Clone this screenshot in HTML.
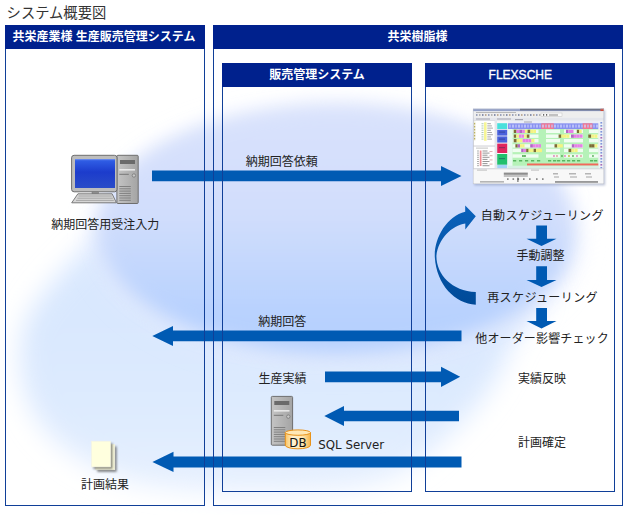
<!DOCTYPE html>
<html lang="ja">
<head>
<meta charset="utf-8">
<title>システム概要図</title>
<style>
html,body{margin:0;padding:0;background:#fff;}
body{width:630px;height:515px;overflow:hidden;position:relative;font-family:"Liberation Sans","Noto Sans CJK JP",sans-serif;}
svg{position:absolute;left:0;top:0;display:block;}
.t{font-family:"Liberation Sans","Noto Sans CJK JP",sans-serif;font-size:12px;fill:#222;}
.h{font-family:"Liberation Sans","Noto Sans CJK JP",sans-serif;font-size:12px;font-weight:bold;fill:#fff;}
</style>
</head>
<body>
<svg width="630" height="515" viewBox="0 0 630 515">
<defs>
  <filter id="b1" x="-30%" y="-30%" width="160%" height="160%"><feGaussianBlur stdDeviation="0.9"/></filter>
  <filter id="b03" x="-5%" y="-5%" width="110%" height="110%"><feGaussianBlur stdDeviation="0.6"/></filter>
  <filter id="b18" x="-50%" y="-50%" width="200%" height="200%"><feGaussianBlur stdDeviation="18"/></filter>
  <filter id="b30" x="-50%" y="-50%" width="200%" height="200%"><feGaussianBlur stdDeviation="22"/></filter>
  <filter id="b6" x="-20%" y="-20%" width="140%" height="140%"><feGaussianBlur stdDeviation="9"/></filter>
  <filter id="b15" x="-50%" y="-50%" width="200%" height="200%"><feGaussianBlur stdDeviation="13"/></filter>
  <linearGradient id="inner" x1="0" y1="0" x2="0" y2="1">
    <stop offset="0" stop-color="#d9e2fc"/>
    <stop offset="0.42" stop-color="#d2defc"/>
    <stop offset="0.65" stop-color="#c3d7fd"/>
    <stop offset="0.85" stop-color="#b7d1fe"/>
    <stop offset="1" stop-color="#b7d1fe"/>
  </linearGradient>
  <linearGradient id="outer" gradientUnits="userSpaceOnUse" x1="0" y1="330" x2="0" y2="500">
    <stop offset="0" stop-color="#d9e8fe"/>
    <stop offset="0.5" stop-color="#deebfe"/>
    <stop offset="1" stop-color="#e8f1fe"/>
  </linearGradient>
  <linearGradient id="curve" x1="0" y1="0" x2="0" y2="1">
    <stop offset="0" stop-color="#0a62bc"/>
    <stop offset="1" stop-color="#004a98"/>
  </linearGradient>
  <linearGradient id="scr" x1="0" y1="0" x2="0" y2="1">
    <stop offset="0" stop-color="#3262e8"/>
    <stop offset="0.45" stop-color="#1c3ccc"/>
    <stop offset="1" stop-color="#2a4cc8"/>
  </linearGradient>
  <linearGradient id="tower" x1="0" y1="0" x2="1" y2="0">
    <stop offset="0" stop-color="#c4c4c4"/>
    <stop offset="1" stop-color="#a4a4a4"/>
  </linearGradient>
  <linearGradient id="dbg" x1="0" y1="0" x2="1" y2="0">
    <stop offset="0" stop-color="#fbc462"/>
    <stop offset="0.3" stop-color="#fff2d2"/>
    <stop offset="0.7" stop-color="#ffe6b0"/>
    <stop offset="1" stop-color="#f6b448"/>
  </linearGradient>
  <clipPath id="page"><rect x="0" y="0" width="630" height="515"/></clipPath>
</defs>

<!-- background glow -->
<g id="bg" clip-path="url(#page)">
  <path d="M112 226 C84 248 38 292 26 322 C17 345 18 378 30 406 C44 436 70 455 100 470 C150 495 250 495 330 490 C374 487 402 476 425 457 C452 432 490 400 506 356 C514 334 530 314 545 300 L300 240 Z" fill="url(#outer)" filter="url(#b15)"/>
  <ellipse cx="337" cy="236" rx="242" ry="128" fill="#e3eafd" filter="url(#b15)"/>
  <ellipse cx="337" cy="230" rx="238" ry="124" fill="url(#inner)" filter="url(#b6)"/>
  <ellipse cx="640" cy="195" rx="50" ry="125" fill="#ffffff" opacity="0.8" filter="url(#b30)"/>
  <ellipse cx="535" cy="106" rx="125" ry="24" fill="#ffffff" opacity="0.6" filter="url(#b6)" transform="rotate(13 535 106)"/>
</g>

<!-- arrows -->
<g id="arrows" fill="#005ab3">
  <polygon points="152,170.5 441,170.5 441,166 461.5,176 441,186 441,181.2 152,181.2"/>
  <polygon points="461.5,330.5 173,330.5 173,326 152.3,336 173,346 173,341.2 461.5,341.2"/>
  <polygon points="325,371.4 441,371.4 441,366.7 460.2,376.8 441,387 441,382.2 325,382.2"/>
  <polygon points="459,410.7 344,410.7 344,406 324.3,416 344,426 344,421.2 459,421.2"/>
  <polygon points="461.5,456.5 173.5,456.5 173.5,451.7 152.4,461.9 173.5,472 173.5,467.5 461.5,467.5"/>
  <polygon points="536.2,225.4 547,225.4 547,238.8 556.5,238.8 541.5,245.9 526.5,238.8 536.2,238.8"/>
  <polygon points="536.2,266.3 547,266.3 547,279.9 556.5,279.9 541.5,287.1 526.5,279.9 536.2,279.9"/>
  <polygon points="536.2,308 547,308 547,320.9 556.5,320.9 541.5,328.5 526.5,320.9 536.2,320.9"/>
</g>
<path id="curvearrow" fill="url(#curve)" d="M475.8 304.7 C455 303.5 436.5 285 434.8 257 C434 238 447 216 465.2 211.8 L465.2 205.4 L475.8 216.3 L465.3 229.6 L465.3 223.6 C452 225.5 438 239 436.4 256 C436.5 275 452 291 475.8 292 Z"/>


<!-- boxes -->
<g id="boxes" fill="none" stroke="#103f98" stroke-width="1">
  <rect x="5.5" y="25.5" width="199" height="480"/>
  <rect x="213.5" y="25.5" width="409" height="480"/>
  <rect x="222.5" y="63.5" width="189" height="428"/>
  <rect x="425.5" y="63.5" width="189" height="428"/>
</g>
<g id="heads" fill="#00218d">
  <rect x="5" y="25" width="200" height="24"/>
  <rect x="213" y="25" width="410" height="24"/>
  <rect x="222" y="63" width="190" height="24"/>
  <rect x="425" y="63" width="190" height="24"/>
</g>


<!-- computer icon -->
<g id="pc">
  <rect x="116.9" y="155.3" width="21.3" height="48.2" rx="1" fill="url(#tower)" stroke="#6e6e6e" stroke-width="1"/>
  <rect x="120" y="160" width="15" height="4" fill="#6a6a6a"/>
  <rect x="119.3" y="169.2" width="15.7" height="1.3" fill="#f4f4f4"/>
  <rect x="119.3" y="173.8" width="9.5" height="1" fill="#777"/>
  <circle cx="133.9" cy="175.5" r="1.7" fill="#c8c8c8" stroke="#707070" stroke-width="0.7"/>
  <g fill="#808080">
    <rect x="119.3" y="186" width="11.5" height="1"/><rect x="119.3" y="188.3" width="11.5" height="1"/>
    <rect x="119.3" y="190.6" width="11.5" height="1"/><rect x="119.3" y="192.9" width="11.5" height="1"/>
    <rect x="119.3" y="195.2" width="11.5" height="1"/><rect x="119.3" y="197.5" width="11.5" height="1"/>
    <rect x="119.3" y="199.8" width="11.5" height="1"/>
  </g>
  <rect x="71.6" y="155.3" width="45.4" height="36.5" rx="2.5" fill="#bdbdbd" stroke="#6e6e6e" stroke-width="1"/>
  <rect x="75" y="159" width="40" height="29" fill="url(#scr)"/>
  <rect x="75" y="159" width="40" height="1.2" fill="#6f8ff0" opacity="0.8"/>
  <rect x="92" y="192" width="6.6" height="1.8" fill="#9a9a9a" stroke="#6e6e6e" stroke-width="0.5"/>
  <polygon points="77.9,193.8 112.1,193.8 116.4,202.8 71.7,202.8" fill="#d6d6d6" stroke="#6e6e6e" stroke-width="0.9"/>
  <g stroke="#a0a0a0" stroke-width="0.9">
    <line x1="78.5" y1="196" x2="111.8" y2="196"/><line x1="77.3" y1="198.2" x2="112.8" y2="198.2"/><line x1="76" y1="200.4" x2="113.8" y2="200.4"/>
  </g>
</g>

<!-- server + DB -->
<g id="server">
  <rect x="271.3" y="396.4" width="21.3" height="48.8" rx="1" fill="url(#tower)" stroke="#6e6e6e" stroke-width="1"/>
  <rect x="274.3" y="401" width="15" height="4" fill="#6a6a6a"/>
  <rect x="273.8" y="410.2" width="15.7" height="1.3" fill="#f4f4f4"/>
  <rect x="273.8" y="414.8" width="9.5" height="1" fill="#777"/>
  <circle cx="288.3" cy="416.6" r="1.7" fill="#c8c8c8" stroke="#707070" stroke-width="0.7"/>
  <g fill="#808080">
    <rect x="273.8" y="427" width="11.5" height="1"/><rect x="273.8" y="429.3" width="11.5" height="1"/>
    <rect x="273.8" y="431.6" width="11.5" height="1"/><rect x="273.8" y="433.9" width="11.5" height="1"/>
    <rect x="273.8" y="436.2" width="11.5" height="1"/><rect x="273.8" y="438.5" width="11.5" height="1"/>
    <rect x="273.8" y="440.8" width="11.5" height="1"/>
  </g>
  <path d="M285.3 432.6 L285.3 445.2 A12.6 3.6 0 0 0 310.5 445.2 L310.5 432.6 Z" fill="url(#dbg)" stroke="#e8921a" stroke-width="1"/>
  <ellipse cx="297.9" cy="432.6" rx="12.6" ry="2.7" fill="#ffe8b6" stroke="#e8921a" stroke-width="1"/>
  <text x="297.9" y="446.9" text-anchor="middle" style="font-family:'DejaVu Sans','Liberation Sans',sans-serif;font-size:11.8px;fill:#111">DB</text>
</g>

<!-- documents -->
<g id="docs">
  <rect x="97.3" y="446.4" width="19.3" height="25.4" fill="#555" opacity="0.75" filter="url(#b1)"/>
  <rect x="95.5" y="444.4" width="19.3" height="25.4" fill="#ffffde" stroke="#f4f4e4" stroke-width="0.6"/>
  <rect x="93.4" y="443.2" width="19.1" height="25.7" fill="#555" opacity="0.7" filter="url(#b1)"/>
  <rect x="91.5" y="441.2" width="19.1" height="25.7" fill="#ffffde" stroke="#f4f4e4" stroke-width="0.6"/>
</g>

<!-- FLEXSCHE screenshot mock -->
<g id="shot">
<rect x="474.2" y="110.2" width="131.0" height="75.2" fill="#7080a8" opacity="0.45" filter="url(#b1)"/>
<g filter="url(#b03)">
<rect x="473.0" y="108.8" width="131.0" height="75.2" fill="#f6f6f6"/>
<rect x="473.0" y="108.8" width="131.0" height="2.6" fill="#93a1c8"/>
<rect x="520.0" y="108.8" width="84.0" height="1.5" fill="#5a5f70"/>
<rect x="600.5" y="108.8" width="3.5" height="2.2" fill="#d04838"/>
<rect x="473.0" y="111.4" width="131.0" height="6.2" fill="#eeeeee"/>
<rect x="476.0" y="114.2" width="1.5" height="1.6" fill="#5a6a9a" opacity="0.7"/>
<rect x="479.0" y="114.2" width="1.5" height="1.6" fill="#8a8a8a" opacity="0.7"/>
<rect x="482.0" y="114.2" width="1.5" height="1.6" fill="#3a4a7a" opacity="0.7"/>
<rect x="485.0" y="114.2" width="1.5" height="1.6" fill="#9a7a5a" opacity="0.7"/>
<rect x="488.0" y="114.2" width="1.5" height="1.6" fill="#5a6a9a" opacity="0.7"/>
<rect x="491.0" y="114.2" width="1.5" height="1.6" fill="#8a8a8a" opacity="0.7"/>
<rect x="494.0" y="114.2" width="1.5" height="1.6" fill="#3a4a7a" opacity="0.7"/>
<rect x="497.0" y="114.2" width="1.5" height="1.6" fill="#9a7a5a" opacity="0.7"/>
<rect x="500.0" y="114.2" width="1.5" height="1.6" fill="#5a6a9a" opacity="0.7"/>
<rect x="503.0" y="114.2" width="1.5" height="1.6" fill="#8a8a8a" opacity="0.7"/>
<rect x="506.0" y="114.2" width="1.5" height="1.6" fill="#3a4a7a" opacity="0.7"/>
<rect x="509.0" y="114.2" width="1.5" height="1.6" fill="#9a7a5a" opacity="0.7"/>
<rect x="512.0" y="114.2" width="1.5" height="1.6" fill="#5a6a9a" opacity="0.7"/>
<rect x="515.0" y="114.2" width="1.5" height="1.6" fill="#8a8a8a" opacity="0.7"/>
<rect x="518.0" y="114.2" width="1.5" height="1.6" fill="#3a4a7a" opacity="0.7"/>
<rect x="521.0" y="114.2" width="1.5" height="1.6" fill="#9a7a5a" opacity="0.7"/>
<rect x="524.0" y="114.2" width="1.5" height="1.6" fill="#5a6a9a" opacity="0.7"/>
<rect x="527.0" y="114.2" width="1.5" height="1.6" fill="#8a8a8a" opacity="0.7"/>
<rect x="530.0" y="114.2" width="1.5" height="1.6" fill="#3a4a7a" opacity="0.7"/>
<rect x="533.0" y="114.2" width="1.5" height="1.6" fill="#9a7a5a" opacity="0.7"/>
<rect x="536.0" y="114.2" width="1.5" height="1.6" fill="#5a6a9a" opacity="0.7"/>
<rect x="539.0" y="114.2" width="1.5" height="1.6" fill="#8a8a8a" opacity="0.7"/>
<rect x="476.0" y="112.0" width="40.0" height="0.9" fill="#8a8a8a" opacity="0.6"/>
<rect x="541.0" y="113.0" width="21.0" height="3.2" fill="#fafafa" stroke="#b8b8b8" stroke-width="0.4"/>
<rect x="543.0" y="114.2" width="1.2" height="1.4" fill="#444"/>
<rect x="546.0" y="114.2" width="1.2" height="1.4" fill="#444"/>
<rect x="549.0" y="114.5" width="9.0" height="1.0" fill="#888"/>
<rect x="473.0" y="117.6" width="131.0" height="3.2" fill="#e4e6ec"/>
<rect x="476.0" y="118.4" width="14.0" height="1.2" fill="#8a8a9a" opacity="0.6"/>
<rect x="497.0" y="118.4" width="14.0" height="1.2" fill="#8a8a9a" opacity="0.6"/>
<rect x="515.0" y="119.0" width="8.0" height="1.2" fill="#7a7a8a" opacity="0.6"/>
<rect x="473.6" y="120.8" width="21.4" height="25.0" fill="#ffffff" stroke="#c8c8d0" stroke-width="0.4"/>
<rect x="473.6" y="146.6" width="21.4" height="22.0" fill="#ffffff" stroke="#c8c8d0" stroke-width="0.4"/>
<rect x="473.8" y="121.5" width="1.6" height="19.0" fill="#ececd8"/>
<rect x="474.0" y="123.0" width="1.2" height="1.4" fill="#b0a040" opacity="0.8"/>
<rect x="474.0" y="126.0" width="1.2" height="1.4" fill="#b0a040" opacity="0.8"/>
<rect x="474.0" y="129.0" width="1.2" height="1.4" fill="#b0a040" opacity="0.8"/>
<rect x="474.0" y="132.0" width="1.2" height="1.4" fill="#b0a040" opacity="0.8"/>
<rect x="474.0" y="135.0" width="1.2" height="1.4" fill="#b0a040" opacity="0.8"/>
<rect x="474.0" y="138.0" width="1.2" height="1.4" fill="#b0a040" opacity="0.8"/>
<rect x="484.0" y="122.3" width="2.6" height="18.5" fill="#f6f696"/>
<rect x="487.3" y="123.2" width="3.6" height="1.0" fill="#606060" opacity="0.55"/>
<rect x="481.5" y="123.2" width="2.0" height="1.0" fill="#70a070" opacity="0.55"/>
<rect x="487.3" y="125.4" width="4.6" height="1.0" fill="#606060" opacity="0.55"/>
<rect x="481.5" y="125.4" width="2.0" height="1.0" fill="#70a070" opacity="0.55"/>
<rect x="487.3" y="127.6" width="5.6" height="1.0" fill="#606060" opacity="0.55"/>
<rect x="481.5" y="127.6" width="2.0" height="1.0" fill="#70a070" opacity="0.55"/>
<rect x="487.3" y="129.8" width="3.6" height="1.0" fill="#606060" opacity="0.55"/>
<rect x="481.5" y="129.8" width="2.0" height="1.0" fill="#70a070" opacity="0.55"/>
<rect x="487.3" y="132.0" width="4.6" height="1.0" fill="#606060" opacity="0.55"/>
<rect x="481.5" y="132.0" width="2.0" height="1.0" fill="#70a070" opacity="0.55"/>
<rect x="487.3" y="134.2" width="5.6" height="1.0" fill="#606060" opacity="0.55"/>
<rect x="481.5" y="134.2" width="2.0" height="1.0" fill="#70a070" opacity="0.55"/>
<rect x="487.3" y="136.4" width="3.6" height="1.0" fill="#606060" opacity="0.55"/>
<rect x="481.5" y="136.4" width="2.0" height="1.0" fill="#70a070" opacity="0.55"/>
<rect x="487.3" y="138.6" width="4.6" height="1.0" fill="#606060" opacity="0.55"/>
<rect x="481.5" y="138.6" width="2.0" height="1.0" fill="#70a070" opacity="0.55"/>
<rect x="476.0" y="147.6" width="12.0" height="1.0" fill="#8a8a8a" opacity="0.5"/>
<rect x="479.8" y="150.5" width="1.7" height="15.5" fill="#f08a90"/>
<rect x="482.5" y="150.5" width="5.0" height="1.0" fill="#505050" opacity="0.6"/>
<rect x="477.0" y="150.5" width="2.0" height="1.0" fill="#606060" opacity="0.5"/>
<rect x="489.5" y="151.0" width="3.0" height="1.0" fill="#c06060" opacity="0.5"/>
<rect x="482.5" y="152.6" width="7.0" height="1.0" fill="#505050" opacity="0.6"/>
<rect x="477.0" y="152.6" width="2.0" height="1.0" fill="#606060" opacity="0.5"/>
<rect x="482.5" y="154.7" width="5.0" height="1.0" fill="#505050" opacity="0.6"/>
<rect x="477.0" y="154.7" width="2.0" height="1.0" fill="#606060" opacity="0.5"/>
<rect x="489.5" y="155.2" width="3.0" height="1.0" fill="#c06060" opacity="0.5"/>
<rect x="482.5" y="156.8" width="7.0" height="1.0" fill="#505050" opacity="0.6"/>
<rect x="477.0" y="156.8" width="2.0" height="1.0" fill="#606060" opacity="0.5"/>
<rect x="482.5" y="158.9" width="5.0" height="1.0" fill="#505050" opacity="0.6"/>
<rect x="477.0" y="158.9" width="2.0" height="1.0" fill="#606060" opacity="0.5"/>
<rect x="489.5" y="159.4" width="3.0" height="1.0" fill="#c06060" opacity="0.5"/>
<rect x="482.5" y="161.0" width="7.0" height="1.0" fill="#505050" opacity="0.6"/>
<rect x="477.0" y="161.0" width="2.0" height="1.0" fill="#606060" opacity="0.5"/>
<rect x="482.5" y="163.1" width="5.0" height="1.0" fill="#505050" opacity="0.6"/>
<rect x="477.0" y="163.1" width="2.0" height="1.0" fill="#606060" opacity="0.5"/>
<rect x="489.5" y="163.6" width="3.0" height="1.0" fill="#c06060" opacity="0.5"/>
<rect x="482.5" y="165.2" width="7.0" height="1.0" fill="#505050" opacity="0.6"/>
<rect x="477.0" y="165.2" width="2.0" height="1.0" fill="#606060" opacity="0.5"/>
<rect x="497.2" y="123.2" width="10.0" height="5.8" fill="#48e0dc"/>
<rect x="497.2" y="129.8" width="10.0" height="5.8" fill="#4a62dc"/>
<rect x="497.2" y="136.4" width="10.0" height="6.2" fill="#4a62dc"/>
<rect x="497.2" y="143.6" width="10.0" height="9.4" fill="#e0285e"/>
<rect x="497.2" y="154.0" width="10.0" height="10.8" fill="#22c06c"/>
<rect x="497.2" y="164.8" width="10.0" height="3.7" fill="#a4d2f6"/>
<rect x="499.0" y="131.5" width="6.0" height="1.2" fill="#1a2a60" opacity="0.4"/>
<rect x="499.0" y="138.5" width="6.0" height="1.2" fill="#1a2a60" opacity="0.4"/>
<rect x="499.0" y="147.0" width="6.0" height="1.2" fill="#1a2a60" opacity="0.4"/>
<rect x="499.0" y="158.0" width="6.0" height="1.2" fill="#1a2a60" opacity="0.4"/>
<rect x="495.3" y="120.8" width="1.7" height="47.7" fill="#e4e6ec"/>
<rect x="508.0" y="120.8" width="90.5" height="2.6" fill="#eceef6"/>
<rect x="524.0" y="121.4" width="8.0" height="1.2" fill="#8a8a9a" opacity="0.6"/>
<rect x="508.0" y="123.3" width="90.5" height="5.7" fill="#8892f0"/>
<rect x="541.3" y="123.3" width="12.4" height="5.7" fill="#f27890"/>
<rect x="582.6" y="123.3" width="9.9" height="5.7" fill="#f27890"/>
<rect x="509.2" y="124.6" width="1.6" height="3.0" fill="#bcc0fa" opacity="0.85"/>
<rect x="512.2" y="124.6" width="1.6" height="3.0" fill="#d0d6ff" opacity="0.85"/>
<rect x="515.2" y="124.6" width="1.6" height="3.0" fill="#bcc0fa" opacity="0.85"/>
<rect x="518.2" y="124.6" width="1.6" height="3.0" fill="#d0d6ff" opacity="0.85"/>
<rect x="521.2" y="124.6" width="1.6" height="3.0" fill="#bcc0fa" opacity="0.85"/>
<rect x="524.2" y="124.6" width="1.6" height="3.0" fill="#d0d6ff" opacity="0.85"/>
<rect x="527.2" y="124.6" width="1.6" height="3.0" fill="#bcc0fa" opacity="0.85"/>
<rect x="530.2" y="124.6" width="1.6" height="3.0" fill="#d0d6ff" opacity="0.85"/>
<rect x="533.2" y="124.6" width="1.6" height="3.0" fill="#bcc0fa" opacity="0.85"/>
<rect x="536.2" y="124.6" width="1.6" height="3.0" fill="#d0d6ff" opacity="0.85"/>
<rect x="539.2" y="124.6" width="1.6" height="3.0" fill="#bcc0fa" opacity="0.85"/>
<rect x="542.2" y="124.6" width="1.6" height="3.0" fill="#d0d6ff" opacity="0.85"/>
<rect x="545.2" y="124.6" width="1.6" height="3.0" fill="#bcc0fa" opacity="0.85"/>
<rect x="548.2" y="124.6" width="1.6" height="3.0" fill="#d0d6ff" opacity="0.85"/>
<rect x="551.2" y="124.6" width="1.6" height="3.0" fill="#bcc0fa" opacity="0.85"/>
<rect x="554.2" y="124.6" width="1.6" height="3.0" fill="#d0d6ff" opacity="0.85"/>
<rect x="557.2" y="124.6" width="1.6" height="3.0" fill="#bcc0fa" opacity="0.85"/>
<rect x="560.2" y="124.6" width="1.6" height="3.0" fill="#d0d6ff" opacity="0.85"/>
<rect x="563.2" y="124.6" width="1.6" height="3.0" fill="#bcc0fa" opacity="0.85"/>
<rect x="566.2" y="124.6" width="1.6" height="3.0" fill="#d0d6ff" opacity="0.85"/>
<rect x="569.2" y="124.6" width="1.6" height="3.0" fill="#bcc0fa" opacity="0.85"/>
<rect x="572.2" y="124.6" width="1.6" height="3.0" fill="#d0d6ff" opacity="0.85"/>
<rect x="575.2" y="124.6" width="1.6" height="3.0" fill="#bcc0fa" opacity="0.85"/>
<rect x="578.2" y="124.6" width="1.6" height="3.0" fill="#d0d6ff" opacity="0.85"/>
<rect x="581.2" y="124.6" width="1.6" height="3.0" fill="#bcc0fa" opacity="0.85"/>
<rect x="584.2" y="124.6" width="1.6" height="3.0" fill="#d0d6ff" opacity="0.85"/>
<rect x="587.2" y="124.6" width="1.6" height="3.0" fill="#bcc0fa" opacity="0.85"/>
<rect x="590.2" y="124.6" width="1.6" height="3.0" fill="#d0d6ff" opacity="0.85"/>
<rect x="593.2" y="124.6" width="1.6" height="3.0" fill="#bcc0fa" opacity="0.85"/>
<rect x="596.2" y="124.6" width="1.6" height="3.0" fill="#d0d6ff" opacity="0.85"/>
<rect x="508.0" y="129.0" width="90.5" height="39.5" fill="#b6f2b8"/>
<rect x="508.0" y="129.0" width="4.5" height="39.5" fill="#e8faf0"/>
<rect x="512.5" y="129.6" width="26.0" height="3.4" fill="#ffffff" opacity="0.8"/>
<rect x="546.0" y="129.6" width="14.0" height="3.4" fill="#ffffff" opacity="0.8"/>
<rect x="564.0" y="129.6" width="19.0" height="3.4" fill="#ffffff" opacity="0.8"/>
<rect x="589.0" y="129.6" width="9.5" height="3.4" fill="#ffffff" opacity="0.8"/>
<rect x="512.5" y="134.5" width="26.0" height="3.4" fill="#ffffff" opacity="0.8"/>
<rect x="546.0" y="134.5" width="14.0" height="3.4" fill="#ffffff" opacity="0.8"/>
<rect x="564.0" y="134.5" width="19.0" height="3.4" fill="#ffffff" opacity="0.8"/>
<rect x="589.0" y="134.5" width="9.5" height="3.4" fill="#ffffff" opacity="0.8"/>
<rect x="512.5" y="139.0" width="26.0" height="3.4" fill="#ffffff" opacity="0.8"/>
<rect x="546.0" y="139.0" width="14.0" height="3.4" fill="#ffffff" opacity="0.8"/>
<rect x="564.0" y="139.0" width="19.0" height="3.4" fill="#ffffff" opacity="0.8"/>
<rect x="589.0" y="139.0" width="9.5" height="3.4" fill="#ffffff" opacity="0.8"/>
<rect x="512.5" y="144.2" width="26.0" height="3.4" fill="#ffffff" opacity="0.8"/>
<rect x="546.0" y="144.2" width="14.0" height="3.4" fill="#ffffff" opacity="0.8"/>
<rect x="564.0" y="144.2" width="19.0" height="3.4" fill="#ffffff" opacity="0.8"/>
<rect x="589.0" y="144.2" width="9.5" height="3.4" fill="#ffffff" opacity="0.8"/>
<rect x="512.5" y="148.7" width="26.0" height="3.4" fill="#ffffff" opacity="0.8"/>
<rect x="546.0" y="148.7" width="14.0" height="3.4" fill="#ffffff" opacity="0.8"/>
<rect x="564.0" y="148.7" width="19.0" height="3.4" fill="#ffffff" opacity="0.8"/>
<rect x="589.0" y="148.7" width="9.5" height="3.4" fill="#ffffff" opacity="0.8"/>
<rect x="512.5" y="154.3" width="26.0" height="3.4" fill="#ffffff" opacity="0.8"/>
<rect x="546.0" y="154.3" width="14.0" height="3.4" fill="#ffffff" opacity="0.8"/>
<rect x="564.0" y="154.3" width="19.0" height="3.4" fill="#ffffff" opacity="0.8"/>
<rect x="589.0" y="154.3" width="9.5" height="3.4" fill="#ffffff" opacity="0.8"/>
<rect x="513.7" y="129.7" width="2.8" height="3.3" fill="#7c6c34"/>
<rect x="516.5" y="129.7" width="2.8" height="3.3" fill="#e680e6"/>
<rect x="519.3" y="129.7" width="2.8" height="3.3" fill="#b466c4"/>
<rect x="522.1" y="129.7" width="2.8" height="3.3" fill="#e680e6"/>
<rect x="524.9" y="129.7" width="2.8" height="3.3" fill="#f4f482"/>
<rect x="527.6" y="129.7" width="2.8" height="3.3" fill="#7c6c34"/>
<rect x="530.4" y="129.7" width="2.8" height="3.3" fill="#f4f482"/>
<rect x="533.2" y="129.7" width="2.8" height="3.3" fill="#f4f482"/>
<rect x="513.7" y="134.5" width="2.6" height="3.3" fill="#7c6c34"/>
<rect x="516.3" y="134.5" width="2.6" height="3.3" fill="#f4f482"/>
<rect x="518.9" y="134.5" width="2.6" height="3.3" fill="#e680e6"/>
<rect x="521.5" y="134.5" width="2.6" height="3.3" fill="#e680e6"/>
<rect x="524.2" y="134.5" width="2.6" height="3.3" fill="#f4f482"/>
<rect x="526.8" y="134.5" width="2.6" height="3.3" fill="#7c6c34"/>
<rect x="513.7" y="139.0" width="3.0" height="3.3" fill="#7c6c34"/>
<rect x="516.7" y="139.0" width="3.0" height="3.3" fill="#f4f482"/>
<rect x="519.6" y="139.0" width="3.0" height="3.3" fill="#f4f482"/>
<rect x="522.6" y="139.0" width="3.0" height="3.3" fill="#e680e6"/>
<rect x="525.5" y="139.0" width="3.0" height="3.3" fill="#e680e6"/>
<rect x="528.5" y="139.0" width="3.0" height="3.3" fill="#e680e6"/>
<rect x="531.4" y="139.0" width="3.0" height="3.3" fill="#f4f482"/>
<rect x="515.4" y="144.2" width="2.3" height="3.3" fill="#7c6c34"/>
<rect x="517.7" y="144.2" width="2.3" height="3.3" fill="#b466c4"/>
<rect x="520.0" y="144.2" width="2.3" height="3.3" fill="#f4f482"/>
<rect x="522.2" y="144.2" width="2.3" height="3.3" fill="#f4f482"/>
<rect x="530.2" y="144.2" width="2.7" height="3.3" fill="#b466c4"/>
<rect x="532.9" y="144.2" width="2.7" height="3.3" fill="#e680e6"/>
<rect x="535.6" y="144.2" width="2.7" height="3.3" fill="#e680e6"/>
<rect x="538.3" y="144.2" width="2.7" height="3.3" fill="#e680e6"/>
<rect x="521.2" y="148.8" width="2.5" height="3.3" fill="#b466c4"/>
<rect x="523.7" y="148.8" width="2.5" height="3.3" fill="#e680e6"/>
<rect x="526.2" y="148.8" width="2.5" height="3.3" fill="#7c6c34"/>
<rect x="528.6" y="148.8" width="2.5" height="3.3" fill="#f4f482"/>
<rect x="531.1" y="148.8" width="2.5" height="3.3" fill="#f4f482"/>
<rect x="533.6" y="148.8" width="2.5" height="3.3" fill="#7c6c34"/>
<rect x="536.0" y="148.8" width="2.5" height="3.3" fill="#f4f482"/>
<rect x="538.5" y="148.8" width="2.5" height="3.3" fill="#f4f482"/>
<rect x="566.0" y="129.7" width="2.5" height="3.3" fill="#b466c4"/>
<rect x="568.5" y="129.7" width="2.5" height="3.3" fill="#e680e6"/>
<rect x="571.0" y="129.7" width="2.5" height="3.3" fill="#e680e6"/>
<rect x="576.8" y="129.7" width="2.5" height="3.3" fill="#7c6c34"/>
<rect x="579.2" y="129.7" width="2.5" height="3.3" fill="#f4f482"/>
<rect x="558.6" y="134.5" width="2.7" height="3.3" fill="#7c6c34"/>
<rect x="561.3" y="134.5" width="2.7" height="3.3" fill="#f4f482"/>
<rect x="564.0" y="134.5" width="2.7" height="3.3" fill="#f4f482"/>
<rect x="566.7" y="134.5" width="2.7" height="3.3" fill="#f4f482"/>
<rect x="571.0" y="134.5" width="2.9" height="3.3" fill="#b466c4"/>
<rect x="573.9" y="134.5" width="2.9" height="3.3" fill="#e680e6"/>
<rect x="576.8" y="134.5" width="2.9" height="3.3" fill="#e680e6"/>
<rect x="579.7" y="134.5" width="2.9" height="3.3" fill="#e680e6"/>
<rect x="588.3" y="134.5" width="3.0" height="3.3" fill="#7c6c34"/>
<rect x="591.3" y="134.5" width="3.0" height="3.3" fill="#f4f482"/>
<rect x="594.4" y="134.5" width="3.0" height="3.3" fill="#f4f482"/>
<rect x="554.5" y="144.2" width="2.8" height="3.3" fill="#7c6c34"/>
<rect x="557.3" y="144.2" width="2.8" height="3.3" fill="#f4f482"/>
<rect x="560.0" y="144.2" width="2.8" height="3.3" fill="#f4f482"/>
<rect x="571.8" y="144.2" width="2.7" height="3.3" fill="#b466c4"/>
<rect x="574.5" y="144.2" width="2.7" height="3.3" fill="#e680e6"/>
<rect x="577.2" y="144.2" width="2.7" height="3.3" fill="#e680e6"/>
<rect x="579.9" y="144.2" width="2.7" height="3.3" fill="#e680e6"/>
<rect x="589.2" y="144.2" width="2.7" height="3.3" fill="#7c6c34"/>
<rect x="591.9" y="144.2" width="2.7" height="3.3" fill="#7c6c34"/>
<rect x="594.7" y="144.2" width="2.7" height="3.3" fill="#f4f482"/>
<rect x="538.0" y="148.8" width="4.0" height="3.3" fill="#f4f482"/>
<rect x="568.5" y="148.8" width="3.0" height="3.3" fill="#7c6c34"/>
<rect x="571.5" y="148.8" width="3.0" height="3.3" fill="#f4f482"/>
<rect x="574.6" y="148.8" width="3.0" height="3.3" fill="#f4f482"/>
<rect x="522.0" y="155.1" width="1.9" height="1.8" fill="#40a040" opacity="0.85"/>
<rect x="524.0" y="155.1" width="1.9" height="1.8" fill="#40a040" opacity="0.85"/>
<rect x="553.0" y="155.1" width="1.9" height="1.8" fill="#e080c0" opacity="0.85"/>
<rect x="556.0" y="155.1" width="1.9" height="1.8" fill="#e0a0a0" opacity="0.85"/>
<rect x="561.0" y="155.1" width="1.9" height="1.8" fill="#60b060" opacity="0.85"/>
<rect x="564.0" y="155.1" width="1.9" height="1.8" fill="#e080c0" opacity="0.85"/>
<rect x="568.0" y="155.1" width="1.9" height="1.8" fill="#c0c040" opacity="0.85"/>
<rect x="572.0" y="155.1" width="1.9" height="1.8" fill="#60b060" opacity="0.85"/>
<rect x="576.0" y="155.1" width="1.9" height="1.8" fill="#e080c0" opacity="0.85"/>
<rect x="580.0" y="155.1" width="1.9" height="1.8" fill="#e0a0a0" opacity="0.85"/>
<rect x="592.0" y="155.1" width="1.9" height="1.8" fill="#60b060" opacity="0.85"/>
<rect x="513.0" y="160.2" width="3.2" height="1.2" fill="#2f9a3a" opacity="0.85"/>
<rect x="519.0" y="160.2" width="3.2" height="1.2" fill="#2f9a3a" opacity="0.85"/>
<rect x="525.0" y="160.2" width="3.2" height="1.2" fill="#2f9a3a" opacity="0.85"/>
<rect x="531.0" y="160.2" width="3.2" height="1.2" fill="#2f9a3a" opacity="0.85"/>
<rect x="537.0" y="160.2" width="3.2" height="1.2" fill="#2f9a3a" opacity="0.85"/>
<rect x="548.0" y="160.2" width="3.2" height="1.2" fill="#2f9a3a" opacity="0.85"/>
<rect x="553.0" y="160.2" width="3.2" height="1.2" fill="#2f9a3a" opacity="0.85"/>
<rect x="557.0" y="160.2" width="3.2" height="1.2" fill="#2f9a3a" opacity="0.85"/>
<rect x="562.0" y="160.2" width="3.2" height="1.2" fill="#2f9a3a" opacity="0.85"/>
<rect x="567.0" y="160.2" width="3.2" height="1.2" fill="#2f9a3a" opacity="0.85"/>
<rect x="572.0" y="160.2" width="3.2" height="1.2" fill="#2f9a3a" opacity="0.85"/>
<rect x="577.0" y="160.2" width="3.2" height="1.2" fill="#2f9a3a" opacity="0.85"/>
<rect x="590.0" y="160.2" width="3.2" height="1.2" fill="#2f9a3a" opacity="0.85"/>
<rect x="594.0" y="160.2" width="3.2" height="1.2" fill="#2f9a3a" opacity="0.85"/>
<rect x="527.0" y="163.5" width="71.5" height="2.1" fill="#f2685c"/>
<rect x="508.0" y="165.7" width="90.5" height="2.8" fill="#d8f0e4"/>
<rect x="598.6" y="120.8" width="5.4" height="47.7" fill="#eef0f6"/>
<rect x="600.4" y="122.0" width="1.8" height="1.6" fill="#5a78d0" opacity="0.75"/>
<rect x="600.4" y="125.0" width="1.8" height="1.6" fill="#5a78d0" opacity="0.75"/>
<rect x="600.4" y="128.0" width="1.8" height="1.6" fill="#9040a0" opacity="0.75"/>
<rect x="600.4" y="131.0" width="1.8" height="1.6" fill="#5a78d0" opacity="0.75"/>
<rect x="600.4" y="134.0" width="1.8" height="1.6" fill="#5a78d0" opacity="0.75"/>
<rect x="600.4" y="137.0" width="1.8" height="1.6" fill="#9040a0" opacity="0.75"/>
<rect x="600.4" y="140.0" width="1.8" height="1.6" fill="#5a78d0" opacity="0.75"/>
<rect x="600.4" y="143.0" width="1.8" height="1.6" fill="#5a78d0" opacity="0.75"/>
<rect x="600.4" y="146.0" width="1.8" height="1.6" fill="#9040a0" opacity="0.75"/>
<rect x="600.4" y="149.0" width="1.8" height="1.6" fill="#5a78d0" opacity="0.75"/>
<rect x="600.4" y="152.0" width="1.8" height="1.6" fill="#5a78d0" opacity="0.75"/>
<rect x="600.4" y="155.0" width="1.8" height="1.6" fill="#9040a0" opacity="0.75"/>
<rect x="600.4" y="158.0" width="1.8" height="1.6" fill="#5a78d0" opacity="0.75"/>
<rect x="600.4" y="161.0" width="1.8" height="1.6" fill="#5a78d0" opacity="0.75"/>
<rect x="600.4" y="164.0" width="1.8" height="1.6" fill="#9040a0" opacity="0.75"/>
<rect x="600.4" y="167.0" width="1.8" height="1.6" fill="#5a78d0" opacity="0.75"/>
<rect x="473.0" y="168.5" width="131.0" height="15.5" fill="#f8f8f8"/>
<rect x="473.0" y="168.5" width="131.0" height="0.7" fill="#c8c8d0"/>
<rect x="477.0" y="169.6" width="10.0" height="1.0" fill="#9a9a9a" opacity="0.6"/>
<rect x="531.0" y="169.6" width="8.0" height="1.0" fill="#9a9a9a" opacity="0.6"/>
<rect x="503.8" y="172.6" width="24.0" height="2.2" fill="#606060" opacity="0.7"/>
<rect x="503.8" y="175.2" width="24.0" height="1.6" fill="#808080" opacity="0.55"/>
<rect x="507.0" y="178.2" width="1.6" height="1.8" fill="#505050" opacity="0.65"/>
<rect x="512.5" y="178.2" width="1.6" height="1.8" fill="#505050" opacity="0.65"/>
<rect x="517.5" y="178.2" width="1.6" height="1.8" fill="#505050" opacity="0.65"/>
<rect x="523.0" y="178.2" width="1.6" height="1.8" fill="#505050" opacity="0.65"/>
<rect x="529.0" y="178.2" width="1.6" height="1.8" fill="#505050" opacity="0.65"/>
<rect x="536.0" y="178.2" width="1.6" height="1.8" fill="#505050" opacity="0.65"/>
<rect x="542.0" y="178.2" width="1.6" height="1.8" fill="#505050" opacity="0.65"/>
<rect x="517.3" y="177.6" width="1.2" height="4.4" fill="#404040" opacity="0.75"/>
<rect x="553.0" y="173.2" width="5.0" height="1.2" fill="#707070" opacity="0.6"/>
<rect x="554.0" y="176.4" width="5.0" height="1.2" fill="#707070" opacity="0.5"/>
<rect x="569.0" y="173.2" width="7.0" height="1.2" fill="#707070" opacity="0.6"/>
<rect x="570.0" y="176.4" width="7.0" height="1.2" fill="#707070" opacity="0.5"/>
<rect x="585.0" y="173.2" width="6.0" height="1.2" fill="#707070" opacity="0.6"/>
<rect x="586.0" y="176.4" width="6.0" height="1.2" fill="#707070" opacity="0.5"/>
<rect x="480.0" y="181.2" width="24.0" height="1.3" fill="#707070" opacity="0.6"/>
<rect x="555.0" y="181.2" width="43.0" height="1.5" fill="#505050" opacity="0.7"/>
</g>
<rect x="473.2" y="109" width="130.6" height="74.8" fill="none" stroke="#b8bcc8" stroke-width="0.5"/>
</g>

<!-- texts -->
<text x="6.6" y="18.4" style="font-family:'Liberation Sans','Noto Sans CJK JP',sans-serif;font-size:14.3px;fill:#333">システム概要図</text>
<text class="h" x="12.5" y="41">共栄産業様 生産販売管理システム</text>
<text class="h" x="417.5" y="41" text-anchor="middle">共栄樹脂様</text>
<text class="h" x="317" y="79.4" text-anchor="middle">販売管理システム</text>
<text class="h" x="520.3" y="79" text-anchor="middle" style="font-weight:normal" stroke="#ffffff" stroke-width="0.35">FLEXSCHE</text>

<text class="t" x="105.3" y="229" text-anchor="middle">納期回答用受注入力</text>
<text class="t" x="281.8" y="165.5" text-anchor="middle">納期回答依頼</text>
<text class="t" x="282.2" y="325.6" text-anchor="middle">納期回答</text>
<text class="t" x="282.5" y="383" text-anchor="middle">生産実績</text>
<text class="t" x="105" y="489" text-anchor="middle">計画結果</text>
<text class="t" x="542.3" y="220" text-anchor="middle" letter-spacing="0.4">自動スケジューリング</text>
<text class="t" x="540.6" y="259.7" text-anchor="middle">手動調整</text>
<text class="t" x="542.6" y="301.6" text-anchor="middle" letter-spacing="0.4">再スケジューリング</text>
<text class="t" x="542.1" y="343" text-anchor="middle" letter-spacing="0.15">他オーダー影響チェック</text>
<text class="t" x="541.9" y="383" text-anchor="middle">実績反映</text>
<text class="t" x="541.9" y="446.6" text-anchor="middle">計画確定</text>
<text x="318.3" y="449.3" style="font-family:'DejaVu Sans','Liberation Sans',sans-serif;font-size:11.8px;fill:#222">SQL Server</text>
</svg>
</body>
</html>
